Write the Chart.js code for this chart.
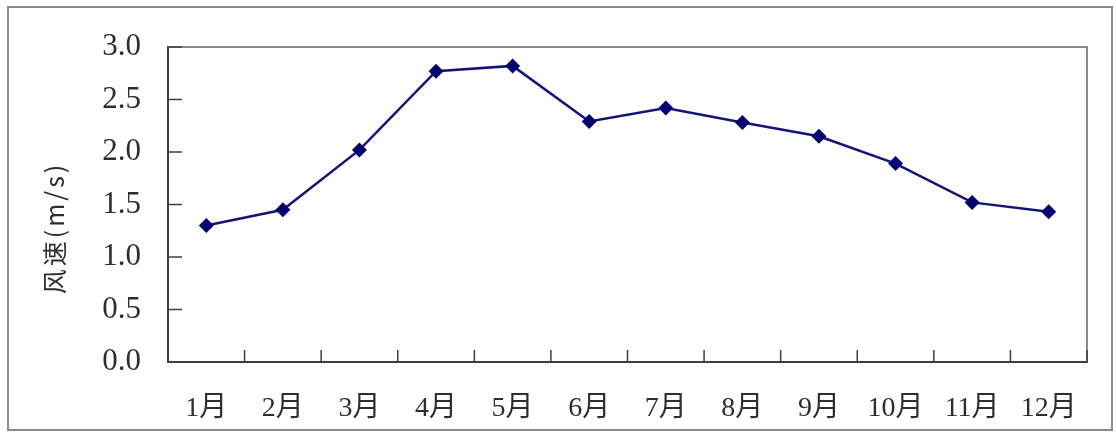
<!DOCTYPE html>
<html>
<head>
<meta charset="utf-8">
<script src="https://cdn.jsdelivr.net/npm/chart.js@4.4.1/dist/chart.umd.min.js"></script>
<style>
  html, body { margin: 0; padding: 0; background: #fff; }
  canvas { display: block; }
</style>
</head>
<body>
<canvas id="windChart" width="1116" height="433"></canvas>
<script>
// monthly mean wind speed
var months = ['1月', '2月', '3月', '4月', '5月', '6月', '7月', '8月', '9月', '10月', '11月', '12月'];
var windSpeed = [1.30, 1.45, 2.02, 2.77, 2.82, 2.29, 2.42, 2.28, 2.15, 1.89, 1.52, 1.43];
var yTicks = [0, 0.5, 1.0, 1.5, 2.0, 2.5, 3.0];
var yTitle = '风速(m/s)';

var textColor = '#2e2e2e';
var serif = "'Liberation Serif', 'Noto Sans CJK SC', serif";

// outer frame, plot frame, inward tick marks and the axis title
var framePlugin = {
    id: 'frame',
    beforeDraw: function (chart) {
        var ctx = chart.ctx;
        ctx.save();
        ctx.fillStyle = '#ffffff';
        ctx.fillRect(0, 0, chart.width, chart.height);
        ctx.strokeStyle = '#8a8a8a';
        ctx.lineWidth = 2;
        ctx.strokeRect(8, 7, chart.width - 12, chart.height - 10);
        ctx.restore();
    },
    afterDraw: function (chart) {
        var ctx = chart.ctx;
        var area = chart.chartArea;
        var x = chart.scales.x;
        var y = chart.scales.y;
        ctx.save();

        // top and right edges of the plot
        ctx.strokeStyle = '#8a8a8a';
        ctx.lineWidth = 2;
        ctx.beginPath();
        ctx.moveTo(area.left, area.top);
        ctx.lineTo(area.right, area.top);
        ctx.lineTo(area.right, area.bottom);
        ctx.stroke();

        // inward ticks
        ctx.strokeStyle = '#404040';
        ctx.lineWidth = 1.5;
        ctx.beginPath();
        yTicks.forEach(function (v) {
            var py = y.getPixelForValue(v);
            ctx.moveTo(area.left, py);
            ctx.lineTo(area.left + 14, py);
        });
        for (var i = 1; i <= months.length; i++) {
            var px = x.getPixelForValue(i - 0.5);
            ctx.moveTo(px, area.bottom);
            ctx.lineTo(px, area.bottom - 12);
        }
        ctx.stroke();

        // y axis title
        ctx.translate(54, 228);
        ctx.rotate(-Math.PI / 2);
        ctx.fillStyle = textColor;
        ctx.font = "25px 'Noto Sans CJK SC', sans-serif";
        ctx.letterSpacing = '3px';
        ctx.textAlign = 'center';
        ctx.textBaseline = 'middle';
        ctx.fillText(yTitle, 0, 0);
        ctx.restore();
    }
};

new Chart(document.getElementById('windChart'), {
    type: 'line',
    data: {
        labels: months,
        datasets: [{
            label: yTitle,
            data: windSpeed,
            borderColor: '#141478',
            backgroundColor: '#000070',
            borderWidth: 2.5,
            pointStyle: 'rectRot',
            pointRadius: 7.5,
            pointBorderWidth: 0,
            pointBackgroundColor: '#000070',
            tension: 0
        }]
    },
    options: {
        responsive: false,
        animation: false,
        layout: { padding: { left: 0, top: 47, right: 29, bottom: 0 } },
        plugins: {
            legend: { display: false },
            tooltip: { enabled: false }
        },
        scales: {
            x: {
                type: 'category',
                offset: true,
                grid: { display: false },
                border: { display: true, color: '#404040', width: 2 },
                ticks: {
                    color: textColor,
                    font: { family: serif, size: 28 },
                    padding: 22,
                    maxRotation: 0,
                    autoSkip: false
                },
                afterFit: function (scale) { scale.height = 71; }
            },
            y: {
                min: 0,
                max: 3,
                grid: { display: false },
                border: { display: true, color: '#404040', width: 2 },
                ticks: {
                    stepSize: 0.5,
                    color: textColor,
                    font: { family: serif, size: 31 },
                    padding: 19,
                    callback: function (v) { return v.toFixed(1); }
                },
                afterFit: function (scale) { scale.width = 168; }
            }
        }
    },
    plugins: [framePlugin]
});
</script>
</body>
</html>
